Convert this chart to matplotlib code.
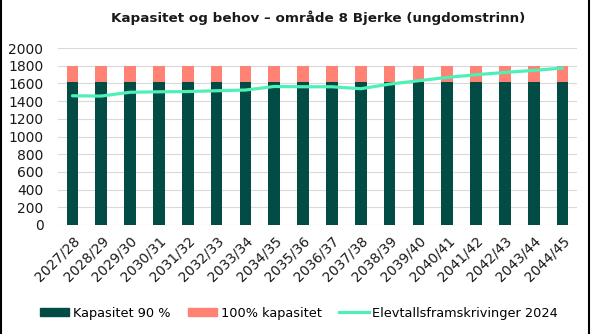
import numpy as np
import matplotlib.pyplot as plt
from matplotlib.lines import Line2D

# data
years = ["2027/28", "2028/29", "2029/30", "2030/31", "2031/32", "2032/33",
         "2033/34", "2034/35", "2035/36", "2036/37", "2037/38", "2038/39",
         "2039/40", "2040/41", "2041/42", "2042/43", "2043/44", "2044/45"]
kapasitet_90 = [1620] * 18
kapasitet_100_extra = [180] * 18
elevtall_2024 = [1460, 1457, 1500, 1505, 1508, 1517, 1525, 1565, 1562, 1562,
                 1540, 1592, 1630, 1668, 1698, 1724, 1747, 1773]

dark_green = "#034b45"
salmon = "#ff8274"
light_green = "#4ff0b8"

plt.rcParams['font.family'] = ['DejaVu Sans']

fig = plt.figure(figsize=(5.94, 3.34), dpi=100)
ax = fig.add_axes([58 / 594, 1 - 225 / 334, (577 - 58) / 594, (225 - 48) / 334])

x = np.arange(len(years))
ax.bar(x, kapasitet_90, width=0.4, color=dark_green, zorder=2)
ax.bar(x, kapasitet_100_extra, width=0.4, bottom=kapasitet_90, color=salmon, zorder=2)
ax.plot(x, elevtall_2024, color=light_green, linewidth=2.3, zorder=3,
        solid_capstyle="round")

ax.set_xlim(-0.5, len(years) - 0.5)
ax.set_ylim(0, 2000)
ax.set_yticks(np.arange(0, 2001, 200))
ax.yaxis.grid(True, color="#d9d9d9", linewidth=0.8, zorder=0)
ax.set_axisbelow(True)
for s in ax.spines.values():
    s.set_visible(False)
ax.tick_params(axis="both", length=0, labelsize=10, colors="#1a1a1a")
ax.tick_params(axis="y", pad=10.5)
ax.set_xticks(x)
ax.set_xticklabels(years, rotation=45, ha="right", rotation_mode="anchor")
ax.tick_params(axis="x", pad=6)

fig.text(318 / 594, 1 - 18 / 334, "Kapasitet og behov \u2013 område 8 Bjerke (ungdomstrinn)",
         ha="center", va="center", fontsize=9.7, fontweight="bold", color="#1a1a1a")

handles = [plt.Rectangle((0, 0), 1, 1, color=dark_green),
           plt.Rectangle((0, 0), 1, 1, color=salmon),
           Line2D([0], [0], color=light_green, linewidth=2.3)]
labels = ["Kapasitet 90 %", "100% kapasitet", "Elevtallsframskrivinger 2024"]
fig.legend(handles, labels, loc="center", bbox_to_anchor=(299 / 594, 1 - 313 / 334),
           ncol=3, frameon=False, fontsize=9.3, handlelength=2.3, handleheight=0.55,
           handletextpad=0.3, columnspacing=1.3)

# black border on left and right edge like the screenshot
fig.add_artist(Line2D([1 / 594, 1 / 594], [0, 1], color="black", linewidth=1.5,
                      transform=fig.transFigure))
fig.add_artist(Line2D([589 / 594, 589 / 594], [0, 1], color="black", linewidth=1.5,
                      transform=fig.transFigure))

fig.savefig("out.png", dpi=100)
